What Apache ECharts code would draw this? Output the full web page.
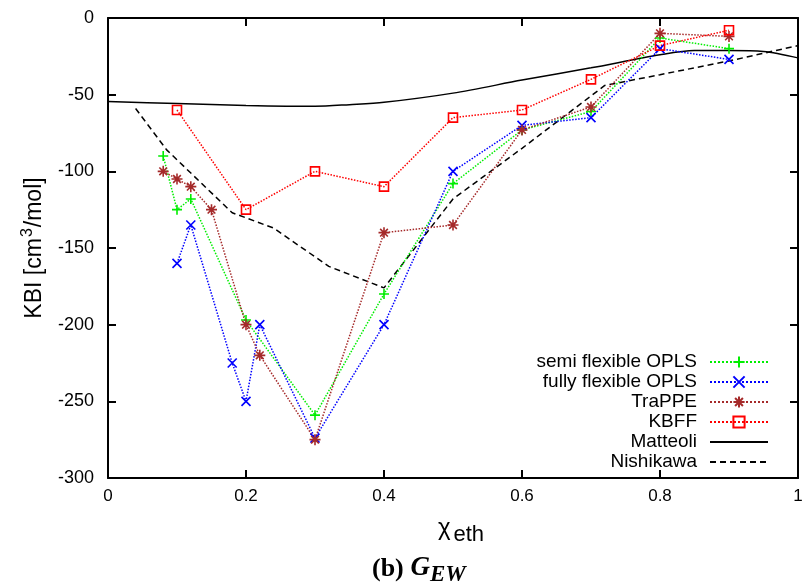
<!DOCTYPE html>
<html>
<head>
<meta charset="utf-8">
<script src="https://cdn.jsdelivr.net/npm/echarts@6/dist/echarts.min.js"></script>
<style>html,body{margin:0;padding:0;background:#fff}#c{width:811px;height:586px}</style>
</head>
<body>
<div id="c"></div>
<script>
// ---- data ----
const semiX = [0.08, 0.1, 0.12, 0.2, 0.3, 0.4, 0.5, 0.6, 0.7, 0.8, 0.9];
const semiY = [-90, -125, -118, -197, -259, -180, -108, -73, -61, -13, -20];

const fullX = [0.1, 0.12, 0.18, 0.2, 0.22, 0.3, 0.4, 0.5, 0.6, 0.7, 0.8, 0.9];
const fullY = [-160, -135, -225, -250, -200, -274, -200, -100, -70, -65, -20, -27];

const trappeX = [0.08, 0.1, 0.12, 0.15, 0.2, 0.22, 0.3, 0.4, 0.5, 0.6, 0.7, 0.8, 0.9];
const trappeY = [-100, -105, -110, -125, -200, -220, -275, -140, -135, -73, -58, -10, -12];

const kbffX = [0.1, 0.2, 0.3, 0.4, 0.5, 0.6, 0.7, 0.8, 0.9];
const kbffY = [-60, -125, -100, -110, -65, -60, -40, -18, -8];

const matteoliX = [0, 0.1, 0.2, 0.3, 0.35, 0.4, 0.5, 0.6, 0.7, 0.8, 0.85, 0.9, 0.95, 1.0];
const matteoliY = [-54.5, -55.8, -57, -57.6, -56.5, -55, -49, -40.5, -32.5, -24, -21.2, -21.2, -21.8, -26];

const nishX = [0.04, 0.085, 0.18, 0.24, 0.32, 0.4, 0.5, 0.6, 0.72, 0.8, 0.9, 1.0];
const nishY = [-59, -86, -127, -137, -162, -176, -118, -85, -44, -37, -28, -18];

const seriesNames = ['semi flexible OPLS', 'fully flexible OPLS', 'TraPPE', 'KBFF', 'Matteoli', 'Nishikawa'];
const xTicks = { min: 0, max: 1, interval: 0.2 };
const yTicks = { min: -300, max: 0, interval: 50 };

// ---- build ----
const zip = (xs, ys) => xs.map((x, i) => [x, ys[i]]);
const FONT = 'Liberation Sans';
const SERIF = 'Liberation Serif';

const SYM_PLUS = 'path://M5,0L5,10M0,5L10,5';
const SYM_X = 'path://M0,0L10,10M10,0L0,10';
const SYM_STAR = 'path://M5,0L5,10M0,5L10,5M1.5,1.5L8.5,8.5M8.5,1.5L1.5,8.5';
const SYM_SQ = 'path://M0,0L10,0L10,10L0,10Z';

function pointSeries(name, data, color, symbol, size) {
  return {
    name, type: 'line', data,
    symbol, symbolSize: size,
    showSymbol: true,
    lineStyle: { color, width: 1.5, type: 'dotted' },
    itemStyle: { color: 'none', borderColor: color, borderWidth: 1.6 },
    emphasis: { disabled: true },
    z: 3
  };
}

const chart = echarts.init(document.getElementById('c'), null, { renderer: 'canvas' });

const axisCommon = {
  axisLine: { show: true, onZero: false, lineStyle: { color: '#000', width: 2 } },
  axisTick: { show: true, inside: true, length: 8, lineStyle: { color: '#000', width: 2 } },
  splitLine: { show: false }
};

chart.setOption({
  animation: false,
  backgroundColor: '#fff',
  grid: { left: 108, right: 13, top: 18, bottom: 108, containLabel: false },
  xAxis: [
    Object.assign({
      type: 'value', min: xTicks.min, max: xTicks.max, interval: xTicks.interval, position: 'bottom',
      axisLabel: { color: '#000', fontFamily: FONT, fontSize: 17, margin: 10 },
      name: '{a|χ}{b|eth}',
      nameLocation: 'middle', nameGap: 38,
      nameTextStyle: { rich: {
        a: { fontFamily: FONT, fontSize: 24, color: '#000', verticalAlign: 'bottom', padding: [0, 3, 6, 16] },
        b: { fontFamily: FONT, fontSize: 22, color: '#000', verticalAlign: 'bottom' }
      } }
    }, axisCommon),
    Object.assign({
      type: 'value', min: xTicks.min, max: xTicks.max, interval: xTicks.interval, position: 'top',
      axisLabel: { show: false }
    }, axisCommon)
  ],
  yAxis: [
    Object.assign({
      type: 'value', min: yTicks.min, max: yTicks.max, interval: yTicks.interval, position: 'left',
      axisLabel: { color: '#000', fontFamily: FONT, fontSize: 18, margin: 14 },
      name: '{a|KBI [cm}{s|3}{a|/mol]}',
      nameLocation: 'middle', nameGap: 62, nameRotate: 90,
      nameTextStyle: { rich: {
        a: { fontFamily: FONT, fontSize: 23, color: '#000', verticalAlign: 'bottom' },
        s: { fontFamily: FONT, fontSize: 16, color: '#000', verticalAlign: 'top', padding: [0, 1, 10, 1] }
      } }
    }, axisCommon),
    Object.assign({
      type: 'value', min: yTicks.min, max: yTicks.max, interval: yTicks.interval, position: 'right',
      axisLabel: { show: false }
    }, axisCommon)
  ],
  legend: {
    orient: 'vertical', right: 37, top: 347, align: 'right',
    itemWidth: 58, itemHeight: 14, itemGap: 0,
    selectedMode: false,
    formatter: n => '{t|' + n + '}',
    textStyle: { color: '#000', fontFamily: FONT, fontSize: 19, lineHeight: 20,
      rich: { t: { width: 172, align: 'right', fontFamily: FONT, fontSize: 19, lineHeight: 20, padding: [0, 8, 0, 0] } } },
    data: [
      seriesNames[0], seriesNames[1], seriesNames[2], seriesNames[3],
      { name: seriesNames[4], itemStyle: { opacity: 0 } },
      { name: seriesNames[5], itemStyle: { opacity: 0 } }
    ]
  },
  title: {
    text: '{b|(b)}{g| G}{s|EW}',
    left: 367, top: 550,
    textStyle: { rich: {
      b: { fontFamily: SERIF, fontWeight: 'bold', fontSize: 26, color: '#000', verticalAlign: 'bottom' },
      g: { fontFamily: SERIF, fontStyle: 'italic', fontSize: 27, color: '#000', verticalAlign: 'bottom' },
      s: { fontFamily: SERIF, fontStyle: 'italic', fontSize: 23, color: '#000', verticalAlign: 'bottom', padding: [0, 0, -5, 0] }
    } }
  },
  series: [
    pointSeries(seriesNames[0], zip(semiX, semiY), '#00ee00', SYM_PLUS, 10),
    pointSeries(seriesNames[1], zip(fullX, fullY), '#0000ff', SYM_X, 9),
    pointSeries(seriesNames[2], zip(trappeX, trappeY), '#a52a2a', SYM_STAR, 11),
    pointSeries(seriesNames[3], zip(kbffX, kbffY), '#ff0000', SYM_SQ, 9),
    {
      name: seriesNames[4], type: 'line', data: zip(matteoliX, matteoliY),
      symbol: 'none', smooth: 0.3,
      lineStyle: { color: '#000', width: 1.5, type: 'solid' },
      itemStyle: { color: '#000' }, z: 2
    },
    {
      name: seriesNames[5], type: 'line', data: zip(nishX, nishY),
      symbol: 'none',
      lineStyle: { color: '#000', width: 1.5, type: [6, 4] },
      itemStyle: { color: '#000' }, z: 2
    }
  ]
});
</script>
</body>
</html>
